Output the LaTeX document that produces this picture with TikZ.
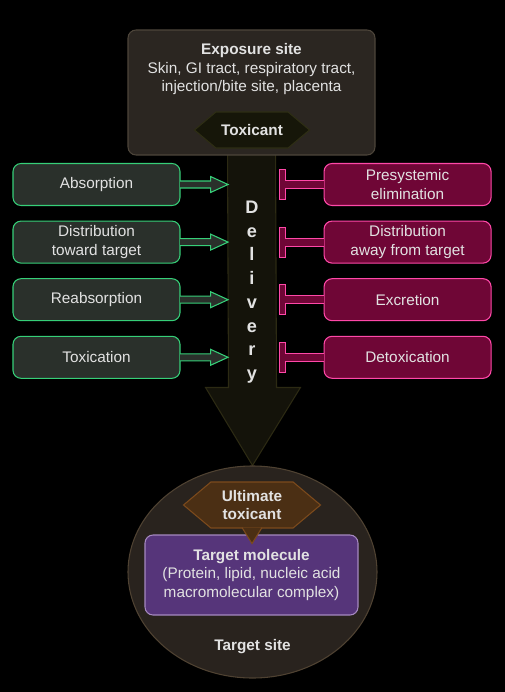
\documentclass[tikz,border=0pt]{standalone}
\usepackage{fontspec}
\setmainfont{Liberation Sans}
\usetikzlibrary{arrows.meta,positioning,calc,shapes.geometric,shapes.symbols,backgrounds}

\definecolor{txt}{HTML}{E2E2E2}
\definecolor{expofill}{HTML}{2B2621}
\definecolor{expoline}{HTML}{4D453A}
\definecolor{toxfill}{HTML}{161609}
\definecolor{toxline}{HTML}{2E2E14}
\definecolor{arrfill}{HTML}{14130A}
\definecolor{arrline}{HTML}{2C2A13}
\definecolor{grnfill}{HTML}{2A302B}
\definecolor{grnline}{HTML}{36CF78}
\definecolor{pinkfill}{HTML}{6F0636}
\definecolor{pinkline}{HTML}{FF48A8}
\definecolor{sitefill}{HTML}{29231E}
\definecolor{siteline}{HTML}{4F4232}
\definecolor{ultfill}{HTML}{4B2F14}
\definecolor{ultline}{HTML}{7C4A1C}
\definecolor{molfill}{HTML}{56357A}
\definecolor{molline}{HTML}{A588C0}

\newcommand{\bodyfont}{\fontsize{11.5pt}{13.9pt}\selectfont}

\begin{document}
\begin{tikzpicture}[
  x=0.75pt, y=-0.75pt,
  node distance=10.9pt and 107.25pt,
  every node/.style={text=txt, font=\bodyfont},
  expobox/.style={draw=expoline, fill=expofill, line width=0.8pt, rounded corners=6pt,
                  minimum width=185.25pt, minimum height=93.75pt, inner sep=0pt},
  hexbox/.style={signal, signal to=west and east, signal pointer angle=80,
                 inner sep=0pt, align=center, font=\bodyfont\bfseries, line width=0.8pt},
  greenbox/.style={draw=grnline, fill=grnfill, line width=0.8pt, rounded corners=6pt,
                   align=center, minimum width=125.25pt, minimum height=31.5pt, inner sep=0pt},
  pinkbox/.style={greenbox, draw=pinkline, fill=pinkfill},
  gconn/.style={draw=grnline, fill=grnfill, line width=0.8pt},
  tbar/.style={draw=pinkline, fill=pinkfill, line width=0.8pt},
  bigarr/.style={draw=arrline, fill=arrfill, line width=0.8pt},
  letter/.style={anchor=base, font=\fontsize{13.6pt}{16pt}\selectfont\bfseries}
]
\useasboundingbox (0,0) rectangle (505,692);

% target site
\node[ellipse, draw=siteline, fill=sitefill, line width=0.8pt, minimum width=186.75pt,
      minimum height=159pt, inner sep=0pt] (site) at (252.5,572) {};
\node[font=\bodyfont\bfseries] (sitelbl) at (252.5,647) {Target site};
\node[draw=molline, fill=molfill, line width=0.8pt, rounded corners=6pt, minimum width=159.75pt,
      minimum height=60pt, inner sep=0pt, align=center] (mol) at (251.5,575)
      {\textbf{Target molecule}\\(Protein, lipid, nucleic acid\\macromolecular complex)};
\node[hexbox, draw=ultline, fill=ultfill, minimum width=102.75pt, minimum height=34.5pt]
      (ult) at (252,505) {Ultimate\\toxicant};
\filldraw[draw=ultline, fill=ultfill, line width=0.8pt]
  ($(ult.south)+(-10,-1)$) -- ($(ult.south)+(0,15)$) -- ($(ult.south)+(10,-1)$);

% exposure site
\node[expobox] (expo) at (251.5,92.5) {};
\node[align=center] (expotext) at (251.5,69.5)
      {\textbf{Exposure site}\\Skin, GI tract, respiratory tract,\\injection/bite site, placenta};
\node[hexbox, draw=toxline, fill=toxfill, minimum width=86.25pt, minimum height=27pt]
      (tox) at (252,130) {Toxicant};

% delivery arrow
\begin{scope}[on background layer]
  \fill[black] (0,0) rectangle (505,692);
  \draw[bigarr] ($(expo.south)+(-24,-10)$) -- ($(expo.south)+(24,-10)$)
    -- ($(site.north)+(24,-78)$) -- ($(site.north)+(48,-78)$) -- (site.north)
    -- ($(site.north)+(-47,-78)$) -- ($(site.north)+(-24,-78)$) -- cycle;
\end{scope}
\foreach \l [count=\i] in {D,e,l,i,v,e,r,y}
  \node[letter] (dl\i) at (252,{213.5+23.7*(\i-1)}) {\l};

% favouring steps
\node[greenbox] (absn) at (96.5,184.5) {Absorption};
\node[greenbox, below=of absn] (distt) {Distribution\\toward target};
\node[greenbox, below=of distt] (reabs) {Reabsorption};
\node[greenbox, below=of reabs] (toxn) {Toxication};

% opposing steps
\node[pinkbox, right=of absn] (presy) {Presystemic\\elimination};
\node[pinkbox, right=of distt] (distaw) {Distribution\\away from target};
\node[pinkbox, right=of reabs] (excr) {Excretion};
\node[pinkbox, right=of toxn] (detox) {Detoxication};

\foreach \n in {absn,distt,reabs,toxn}
  \filldraw[gconn] ($(\n.east)+(-0.5,-3.5)$) -- ++(30.5,0) -- ++(0,-4.5) -- ++(17.5,8)
    -- ++(-17.5,8) -- ++(0,-4.5) -- ++(-30.5,0);
\foreach \n in {presy,distaw,excr,detox}
  \filldraw[tbar] ($(\n.west)+(0.5,-4)$) -- ++(-38.5,0) -- ++(0,-11) -- ++(-6,0)
    -- ++(0,30) -- ++(6,0) -- ++(0,-11) -- ++(38.5,0);
\end{tikzpicture}
\end{document}
